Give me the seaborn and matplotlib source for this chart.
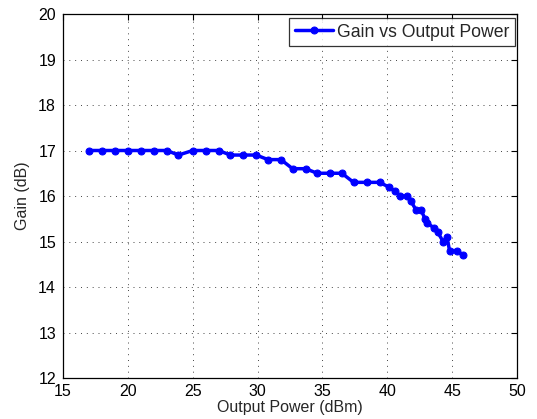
import matplotlib
matplotlib.use("Agg")
import matplotlib.pyplot as plt
import seaborn as sns
import pandas as pd

output_power = [17.0, 18.0, 19.0, 20.0, 21.0, 22.0, 23.0, 23.9, 25.0, 26.0, 27.0, 27.9, 28.9, 29.9,
                30.8, 31.8, 32.7, 33.7, 34.6, 35.6, 36.5, 37.4, 38.4, 39.4,
                40.1, 40.6, 41.0, 41.5, 41.8, 42.2, 42.6, 42.9, 43.1, 43.6, 43.9, 44.3, 44.6, 44.8,
                45.4, 45.8]
gain = [17.0, 17.0, 17.0, 17.0, 17.0, 17.0, 17.0, 16.9, 17.0, 17.0, 17.0, 16.9, 16.9, 16.9,
        16.8, 16.8, 16.6, 16.6, 16.5, 16.5, 16.5, 16.3, 16.3, 16.3,
        16.2, 16.1, 16.0, 16.0, 15.9, 15.7, 15.7, 15.5, 15.4, 15.3, 15.2, 15.0, 15.1, 14.8,
        14.8, 14.7]
series_label = "Gain vs Output Power"
x_ticks = [15, 20, 25, 30, 35, 40, 45, 50]
y_ticks = [12, 13, 14, 15, 16, 17, 18, 19, 20]

df = pd.DataFrame({"x": output_power, "y": gain})

sns.set_style("white")
plt.rcParams["font.family"] = ["Liberation Sans", "DejaVu Sans"]

fs = 11.5
fig = plt.figure(figsize=(5.37, 4.19), dpi=100)
ax = fig.add_axes([63 / 537, 1 - 378 / 419, (517 - 63) / 537, (378 - 14) / 419])

sns.lineplot(data=df, x="x", y="y", ax=ax, color="#0000ff", linewidth=2.5,
             marker="o", markersize=5, markeredgecolor="#0000ff", label=series_label,
             sort=False)

ax.set_xlim(15, 50)
ax.set_ylim(12, 20)
ax.set_xticks(x_ticks)
ax.set_yticks(y_ticks)
ax.tick_params(direction="in", length=4, width=0.8, labelsize=fs, top=True, right=True,
               colors="black")
ax.tick_params(axis="x", pad=4)
ax.tick_params(axis="y", pad=5)
ax.grid(True, linestyle=(0, (1, 5)), color="#444444", linewidth=0.7)
for s in ax.spines.values():
    s.set_color("black")
    s.set_linewidth(0.9)
ax.set_xlabel("Output Power (dBm)", fontsize=fs, labelpad=1)
ax.set_ylabel("Gain (dB)", fontsize=fs, labelpad=6)
leg = ax.legend(loc="upper right", bbox_to_anchor=(515 / 537, 1 - 18 / 419),
                bbox_transform=fig.transFigure, fontsize=12.7, frameon=True, fancybox=False,
                edgecolor="black", borderaxespad=0, handlelength=2.2, handletextpad=0.2,
                borderpad=0.32)
leg.get_frame().set_linewidth(0.9)

fig.savefig("out.png", dpi=100, facecolor="white")
